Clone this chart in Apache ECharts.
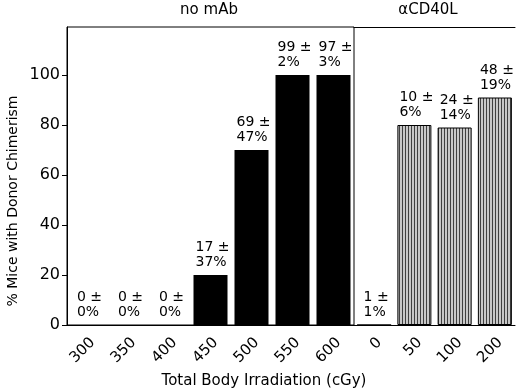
<!DOCTYPE html>
<html>
<head>
<meta charset="utf-8">
<script src="https://cdn.jsdelivr.net/npm/echarts@6/dist/echarts.min.js"></script>
<style>html,body{margin:0;padding:0;background:#fff}#c{width:520px;height:392px}</style>
</head>
<body>
<div id="c"></div>
<script>
const noMAbDoses = ['300', '350', '400', '450', '500', '550', '600'];
const noMAbPct = [0, 0, 0, 20, 70, 100, 100];
const noMAbMean = [0, 0, 0, 17, 69, 99, 97];
const noMAbSd = [0, 0, 0, 37, 47, 2, 3];
const cd40Doses = ['0', '50', '100', '200'];
const cd40Pct = [0, 80, 79, 91];
const cd40Mean = [1, 10, 24, 48];
const cd40Sd = [1, 6, 14, 19];
const yTicks = [0, 20, 40, 60, 80, 100];
const panelTitles = ['no mAb', '\u03b1CD40L'];
const xName = 'Total Body Irradiation (cGy)';
const yName = '% Mice with Donor Chimerism';

const FONT = '"DejaVu Sans", sans-serif';

// hatch pattern
const pc = document.createElement('canvas');
pc.width = 3; pc.height = 4;
const pctx = pc.getContext('2d');
pctx.fillStyle = '#c8c8c8'; pctx.fillRect(0, 0, 3, 4);
pctx.fillStyle = '#404040'; pctx.fillRect(0, 0, 1, 4);

function lbl(means, sds) {
  return {
    show: true, position: 'top', distance: 5, align: 'center', verticalAlign: 'bottom', offset: [2, 0],
    formatter: p => '{a|' + means[p.dataIndex] + ' \u00b1}\n{a|' + sds[p.dataIndex] + '%}',
    rich: { a: { align: 'left', fontFamily: FONT, fontSize: 14, color: '#000', lineHeight: 15 } }
  };
}

const xLabel = { rotate: 45, margin: 10, verticalAlign: 'top', color: '#000', fontFamily: FONT, fontSize: 15 };

const chart = echarts.init(document.getElementById('c'), null, { renderer: 'canvas' });
const GTOP = 27, GH = 298;
chart.setOption({
  animation: false,
  backgroundColor: '#fff',
  title: [
    { text: panelTitles[0], left: 209, top: 3, textAlign: 'center', padding: 0, textStyle: { fontFamily: FONT, fontSize: 15, fontWeight: 'normal', color: '#000' } },
    { text: panelTitles[1], left: 428, top: 3, textAlign: 'center', padding: 0, textStyle: { fontFamily: FONT, fontSize: 15, fontWeight: 'normal', color: '#000' } },
    { text: xName, left: 264, top: 374, textAlign: 'center', padding: 0, textStyle: { fontFamily: FONT, fontSize: 15, fontWeight: 'normal', color: '#000' } }
  ],
  graphic: [{
    type: 'text', x: 13, y: 201, rotation: Math.PI / 2,
    style: { text: yName, font: '14px ' + FONT, fill: '#000', align: 'center', verticalAlign: 'middle' }
  }],
  grid: [
    { left: 67, top: GTOP, width: 287, height: GH, show: true, borderColor: '#000', borderWidth: 1, containLabel: false },
    { left: 354, top: GTOP, width: 161, height: GH, show: false, containLabel: false }
  ],
  xAxis: [
    { type: 'category', gridIndex: 0, data: noMAbDoses, axisLine: { lineStyle: { color: '#000' } }, axisTick: { show: false }, axisLabel: xLabel },
    { type: 'category', gridIndex: 1, data: cd40Doses, axisLine: { lineStyle: { color: '#000' } }, axisTick: { show: false }, axisLabel: xLabel },
    { type: 'category', gridIndex: 1, position: 'top', data: cd40Doses, axisLine: { lineStyle: { color: '#000' } }, axisTick: { show: false }, axisLabel: { show: false } }
  ],
  yAxis: [
    { type: 'value', gridIndex: 0, min: 0, max: 119.2, interval: 20,
      axisLine: { show: true, lineStyle: { color: '#000' } },
      axisTick: { show: true, length: 5, customValues: yTicks, lineStyle: { color: '#000' } },
      axisLabel: { margin: 7, color: '#000', fontFamily: FONT, fontSize: 16, customValues: yTicks },
      splitLine: { show: false } },
    { type: 'value', gridIndex: 1, min: 0, max: 119.2, interval: 20, show: false, splitLine: { show: false } }
  ],
  series: [
    { type: 'bar', xAxisIndex: 0, yAxisIndex: 0, data: noMAbPct, barWidth: 34,
      itemStyle: { color: '#000' }, label: lbl(noMAbMean, noMAbSd) },
    { type: 'bar', xAxisIndex: 1, yAxisIndex: 1, data: cd40Pct, barWidth: 34,
      itemStyle: { color: { image: pc, repeat: 'repeat' }, borderColor: '#000', borderWidth: 1 }, label: lbl(cd40Mean, cd40Sd) }
  ]
});
</script>
</body>
</html>
